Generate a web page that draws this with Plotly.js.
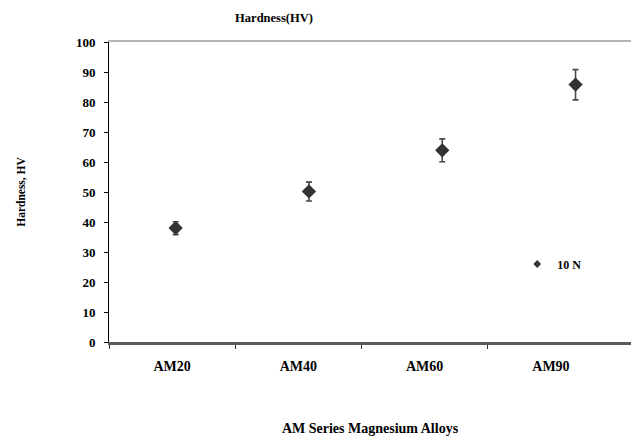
<!DOCTYPE html>
<html>
<head>
<meta charset="utf-8">
<script src="https://cdn.plot.ly/plotly-3.0.1.min.js"></script>
<style>html,body{margin:0;padding:0;background:#fff;}#chart{width:631px;height:436px;}</style>
</head>
<body>
<div id="chart"></div>
<script>
const alloys = ["AM20", "AM40", "AM60", "AM90"];
const hardness = [38, 50.2, 63.9, 85.8];
const errPlus = [2.1, 3.1, 3.8, 5];
const errMinus = [2.2, 3.2, 3.8, 5.1];
const seriesName = "10 N";
const yTicks = [0, 10, 20, 30, 40, 50, 60, 70, 80, 90, 100];

const FONT = "Liberation Serif, Times New Roman, serif";
const bold = (size, color) => ({family: FONT, size: size, color: color || "#000", weight: "bold"});

const traces = [
  {
    type: "scatter", mode: "markers",
    x: alloys, y: hardness,
    xaxis: "x", yaxis: "y",
    name: seriesName, showlegend: false,
    marker: {symbol: "diamond", size: 11, color: "#333333"},
    error_y: {type: "data", symmetric: false, array: errPlus, arrayminus: errMinus,
              color: "#4a4a4a", thickness: 1.6, width: 3},
    hoverinfo: "x+y"
  },
  {
    type: "scatter", mode: "markers",
    x: [alloys[0]], y: [null],
    xaxis: "x", yaxis: "y",
    name: seriesName, showlegend: true,
    marker: {symbol: "diamond", size: 6, color: "#333333"}
  },
  {
    type: "scatter", mode: "markers",
    x: alloys.map((_, i) => i), y: alloys.map(() => null),
    xaxis: "x2", yaxis: "y", showlegend: false, hoverinfo: "skip",
    marker: {opacity: 0}
  }
];

const layout = {
  width: 631, height: 436,
  margin: {l: 109, r: 0, t: 42, b: 94, pad: 0},
  paper_bgcolor: "#fff", plot_bgcolor: "#fff",
  font: {family: FONT, color: "#000"},
  title: {text: "Hardness(HV)", font: bold(12.5), x: 274 / 631, xanchor: "center",
          y: 0.96, yanchor: "middle"},
  xaxis: {
    type: "category", categoryorder: "array", categoryarray: alloys,
    range: [-0.5, 3.416], side: "top", anchor: "y",
    showline: true, linecolor: "#b3b3b3", linewidth: 2,
    showticklabels: false, ticks: "", showgrid: false, zeroline: false, fixedrange: true
  },
  xaxis2: {
    type: "linear", overlaying: "x", side: "bottom", anchor: "y",
    range: [-0.5, 3.634],
    tickmode: "array", tickvals: alloys.map((_, i) => i), ticktext: alloys,
    ticks: "outside", ticklen: 0, tickcolor: "rgba(0,0,0,0)",
    ticklabelstandoff: 10,
    minor: {tickmode: "array", tickvals: alloys.map((_, i) => i - 0.5),
            ticks: "outside", ticklen: 4, tickcolor: "#333", tickwidth: 1, showgrid: false},
    tickfont: bold(14),
    showline: true, linecolor: "#5a5a5a", linewidth: 2.5,
    showgrid: false, zeroline: false,
    title: {text: "AM Series Magnesium Alloys", font: bold(14), standoff: 50}
  },
  yaxis: {
    range: [0, 100], tickmode: "array", tickvals: yTicks,
    ticks: "outside", ticklen: 4, tickcolor: "#000", tickwidth: 1,
    ticklabelstandoff: 6,
    showline: true, linecolor: "#000", linewidth: 1,
    showgrid: false, zeroline: false,
    tickfont: bold(13),
    title: {text: "Hardness, HV", font: bold(11.5), standoff: 47}
  },
  showlegend: true,
  legend: {
    x: 0.782, y: 0.26, xanchor: "left", yanchor: "middle",
    bgcolor: "rgba(0,0,0,0)", borderwidth: 0,
    font: bold(12), itemwidth: 30, tracegroupgap: 0
  }
};

Plotly.newPlot("chart", traces, layout, {displayModeBar: false, staticPlot: true});
</script>
</body>
</html>
